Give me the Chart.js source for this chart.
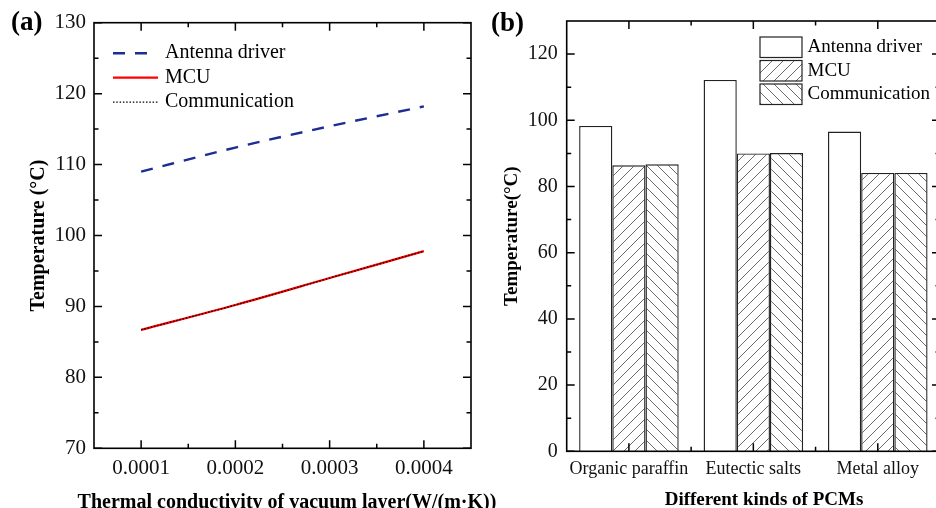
<!DOCTYPE html>
<html><head><meta charset="utf-8">
<script src="https://cdn.jsdelivr.net/npm/chart.js@4.4.0/dist/chart.umd.min.js"></script>
<style>
html,body{margin:0;padding:0;background:#fff;overflow:hidden;}
#wrap{position:relative;width:936px;height:508px;overflow:hidden;background:#fff;}
canvas{position:absolute;top:0;}
#ca{left:0;}
#cb{left:470px;}
</style></head><body>
<div id="wrap"><canvas id="ca" width="520" height="508"></canvas><canvas id="cb" width="480" height="508"></canvas></div>
<script>
// ---------- Panel (a) data ----------
const conductivity = [0.0001, 0.0002, 0.0003, 0.0004];
const antennaLine = [109.0, 112.4, 115.4, 118.2];
const mcuLine = [86.7, 90.2, 94.0, 97.8];
const commLine = [86.7, 90.2, 94.0, 97.8];
const xTicksA = [0.0001, 0.0002, 0.0003, 0.0004];
const xMinorA = [0.00015, 0.00025, 0.00035];
const yTicksA = [70, 80, 90, 100, 110, 120, 130];
const yMinorA = [75, 85, 95, 105, 115, 125];
const seriesNames = ['Antenna driver', 'MCU', 'Communication'];

// ---------- Panel (b) data ----------
const pcms = ['Organic paraffin', 'Eutectic salts', 'Metal alloy'];
const antennaBar = [98.3, 112.2, 96.6];
const mcuBar = [86.4, 90.0, 84.1];
const commBar = [86.7, 90.1, 84.1];
const yTicksB = [0, 20, 40, 60, 80, 100, 120];
const yMinorB = [10, 30, 50, 70, 90, 110];
const xMinorB = [0.5, 1.5];

const SERIF = "'Liberation Serif', 'Times New Roman', serif";

function hatch(dir) {
  const s = 11;
  const c = document.createElement('canvas');
  c.width = s; c.height = s;
  const g = c.getContext('2d');
  g.fillStyle = '#fff'; g.fillRect(0, 0, s, s);
  g.strokeStyle = '#5a5a5a'; g.lineWidth = 0.9;
  g.beginPath();
  for (let k = -1; k <= 1; k++) {
    if (dir === '/') { g.moveTo(k * s, s); g.lineTo(k * s + s, 0); }
    else { g.moveTo(k * s, 0); g.lineTo(k * s + s, s); }
  }
  g.stroke();
  return g.createPattern(c, 'repeat');
}
const patMCU = hatch('/');
const patComm = hatch('\\');

function frameAndTicks(chart, xs, ys) {
  const ctx = chart.ctx, a = chart.chartArea;
  const sx = chart.scales.x, sy = chart.scales.y;
  ctx.save();
  ctx.strokeStyle = '#000';
  ctx.lineWidth = 1.5;
  ctx.beginPath();
  const tick = (arr, len, isX) => {
    arr.forEach(v => {
      if (isX) {
        const p = sx.getPixelForValue(v);
        ctx.moveTo(p, a.bottom); ctx.lineTo(p, a.bottom - len);
        ctx.moveTo(p, a.top); ctx.lineTo(p, a.top + len);
      } else {
        const p = sy.getPixelForValue(v);
        ctx.moveTo(a.left, p); ctx.lineTo(a.left + len, p);
        ctx.moveTo(a.right, p); ctx.lineTo(a.right - len, p);
      }
    });
  };
  tick(xs.major, 8, true); tick(xs.minor, 4.5, true);
  tick(ys.major, 8, false); tick(ys.minor, 4.5, false);
  ctx.stroke();
  ctx.lineWidth = 1.6;
  ctx.strokeRect(a.left, a.top, a.right - a.left, a.bottom - a.top);
  ctx.restore();
}

function text(ctx, str, x, y, font, align, baseline, rot) {
  ctx.save();
  ctx.fillStyle = '#000';
  ctx.font = font;
  ctx.textAlign = align; ctx.textBaseline = baseline;
  ctx.translate(x, y);
  if (rot) ctx.rotate(rot);
  ctx.fillText(str, 0, 0);
  ctx.restore();
}

// ---------- Chart (a) ----------
new Chart(document.getElementById('ca'), {
  type: 'line',
  data: {
    datasets: [
      { label: seriesNames[0], data: conductivity.map((x, i) => ({x, y: antennaLine[i]})),
        borderColor: '#1c2d94', borderWidth: 2.4, borderDash: [12, 10], order: 2 },
      { label: seriesNames[1], data: conductivity.map((x, i) => ({x, y: mcuLine[i]})),
        borderColor: '#ff0000', borderWidth: 2.2, order: 1 },
      { label: seriesNames[2], data: conductivity.map((x, i) => ({x, y: commLine[i]})),
        borderColor: '#000', borderWidth: 1.3, borderDash: [1.5, 1.8], order: 0 }
    ]
  },
  options: {
    responsive: false, animation: false, events: [],
    layout: { padding: { top: 22.7, right: 49, bottom: 0, left: 0 } },
    elements: { point: { radius: 0 }, line: { cubicInterpolationMode: 'monotone', fill: false } },
    plugins: { legend: { display: false }, tooltip: { enabled: false } },
    scales: {
      x: {
        type: 'linear', min: 0.00005, max: 0.00045,
        afterBuildTicks: s => { s.ticks = xTicksA.map(v => ({value: v})); },
        afterFit: s => { s.height = 59.7; },
        grid: { display: false, drawTicks: false }, border: { display: false },
        ticks: { padding: 8, color: '#111', font: { family: SERIF, size: 21 },
          maxRotation: 0, autoSkip: false, callback: v => v.toFixed(4) }
      },
      y: {
        min: 70, max: 130,
        afterBuildTicks: s => { s.ticks = yTicksA.map(v => ({value: v})); },
        afterFit: s => { s.width = 94; },
        grid: { display: false, drawTicks: false }, border: { display: false },
        ticks: { padding: 8, color: '#111', font: { family: SERIF, size: 21 } }
      }
    }
  },
  plugins: [{
    id: 'decoA',
    afterDatasetsDraw(chart) {
      frameAndTicks(chart, {major: xTicksA, minor: xMinorA}, {major: yTicksA, minor: yMinorA});
      const ctx = chart.ctx, a = chart.chartArea;
      chart.data.datasets.forEach((d, i) => {
        const y = a.top + 30.5 + i * 24.5;
        ctx.save();
        ctx.strokeStyle = d.borderColor; ctx.lineWidth = d.borderWidth;
        ctx.setLineDash(d.borderDash || []);
        ctx.beginPath();
        ctx.moveTo(a.left + 19, y); ctx.lineTo(a.left + (i === 0 ? 55 : 64), y);
        ctx.stroke();
        ctx.restore();
        text(ctx, d.label, a.left + 71, y, `20px ${SERIF}`, 'left', 'middle');
      });
      text(ctx, '(a)', 11, 30, `bold 27px ${SERIF}`, 'left', 'alphabetic');
      text(ctx, 'Temperature (°C)', 44, (a.top + a.bottom) / 2, `bold 20px ${SERIF}`, 'center', 'alphabetic', -Math.PI / 2);
      text(ctx, 'Thermal conductivity of vacuum layer(W/(m·K))', 287, 508, `bold 20px ${SERIF}`, 'center', 'alphabetic');
    }
  }]
});

// ---------- Chart (b) ----------
new Chart(document.getElementById('cb'), {
  type: 'bar',
  data: {
    labels: pcms,
    datasets: [
      { label: seriesNames[0], data: antennaBar, backgroundColor: '#fff' },
      { label: seriesNames[1], data: mcuBar, backgroundColor: patMCU },
      { label: seriesNames[2], data: commBar, backgroundColor: patComm }
    ]
  },
  options: {
    responsive: false, animation: false, events: [],
    layout: { padding: { top: 20, right: 10, bottom: 0, left: 0 } },
    datasets: { bar: { categoryPercentage: 0.8, barPercentage: 1.0, borderColor: '#222', borderWidth: 1.4 } },
    plugins: { legend: { display: false }, tooltip: { enabled: false } },
    scales: {
      x: {
        offset: true,
        afterFit: s => { s.height = 56.7; },
        grid: { display: false, drawTicks: false }, border: { display: false },
        ticks: { padding: 7, color: '#111', font: { family: SERIF, size: 18 }, maxRotation: 0, autoSkip: false }
      },
      y: {
        min: 0, max: 130,
        afterBuildTicks: s => { s.ticks = yTicksB.map(v => ({value: v})); },
        afterFit: s => { s.width = 96.7; },
        grid: { display: false, drawTicks: false }, border: { display: false },
        ticks: { padding: 9, color: '#111', font: { family: SERIF, size: 20 } }
      }
    }
  },
  plugins: [{
    id: 'decoB',
    afterDatasetsDraw(chart) {
      frameAndTicks(chart, {major: [0, 1, 2], minor: xMinorB}, {major: yTicksB, minor: yMinorB});
      const ctx = chart.ctx, a = chart.chartArea;
      chart.data.datasets.forEach((d, i) => {
        const y = a.top + 16 + i * 23.5;
        ctx.save();
        ctx.fillStyle = d.backgroundColor;
        ctx.fillRect(290, y, 42, 20.5);
        ctx.strokeStyle = '#222'; ctx.lineWidth = 1.2;
        ctx.strokeRect(290, y, 42, 20.5);
        ctx.restore();
        text(ctx, d.label, 337.5, y + 10.5, `19px ${SERIF}`, 'left', 'middle');
      });
      text(ctx, '(b)', 21, 31, `bold 27px ${SERIF}`, 'left', 'alphabetic');
      text(ctx, 'Temperature(°C)', 47, (a.top + a.bottom) / 2, `bold 19px ${SERIF}`, 'center', 'alphabetic', -Math.PI / 2);
      text(ctx, 'Different kinds of PCMs', 294, 505, `bold 19px ${SERIF}`, 'center', 'alphabetic');
    }
  }]
});
</script>
</body></html>
